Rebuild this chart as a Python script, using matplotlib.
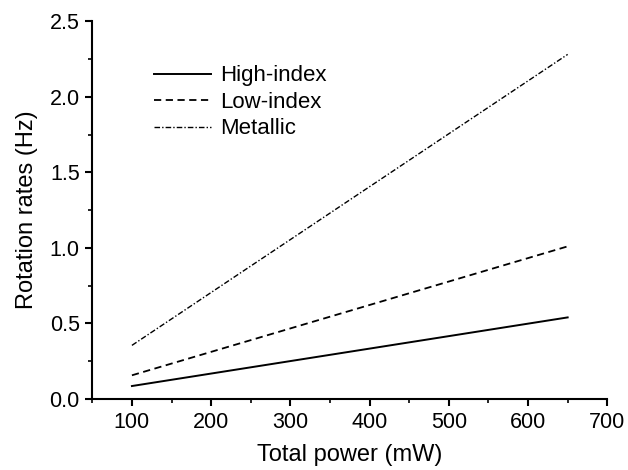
import matplotlib
matplotlib.use('Agg')
import matplotlib.pyplot as plt
from matplotlib.ticker import MultipleLocator

plt.rcParams['font.family'] = ['Liberation Sans', 'DejaVu Sans']

# Data
power = [100, 650]
high_index = [0.086, 0.54]
low_index = [0.157, 1.01]
metallic = [0.355, 2.28]

fig = plt.figure(figsize=(6.28, 4.70), dpi=100)
ax = fig.add_axes([0.147, 0.151, 0.820, 0.804])

ax.plot(power, high_index, color='black', lw=1.4, linestyle='-', label='High-index')
ax.plot(power, low_index, color='black', lw=1.3, linestyle=(0, (4, 2.5)), label='Low-index')
ax.plot(power, metallic, color='black', lw=1.0, linestyle=(0, (4, 1.5, 1, 1.5)), label='Metallic')

ax.set_xlim(50, 700)
ax.set_ylim(0, 2.5)
ax.xaxis.set_major_locator(MultipleLocator(100))
ax.xaxis.set_minor_locator(MultipleLocator(50))
ax.yaxis.set_major_locator(MultipleLocator(0.5))
ax.yaxis.set_minor_locator(MultipleLocator(0.25))
ax.yaxis.set_major_formatter(plt.FormatStrFormatter('%.1f'))

for side in ('top', 'right'):
    ax.spines[side].set_visible(False)
for side in ('left', 'bottom'):
    ax.spines[side].set_linewidth(1.5)
ax.tick_params(which='major', direction='out', length=5, width=1.5, labelsize=15.5, pad=4)
ax.tick_params(which='minor', direction='out', length=3, width=1.2)

ax.set_xlabel('Total power (mW)', fontsize=17, labelpad=8)
ax.set_ylabel('Rotation rates (Hz)', fontsize=17, labelpad=8)

ax.legend(loc='upper left', bbox_to_anchor=(0.08, 0.936), frameon=False,
          fontsize=16, handlelength=2.6, handletextpad=0.4, labelspacing=0.25)

fig.savefig('out.png', dpi=100)
